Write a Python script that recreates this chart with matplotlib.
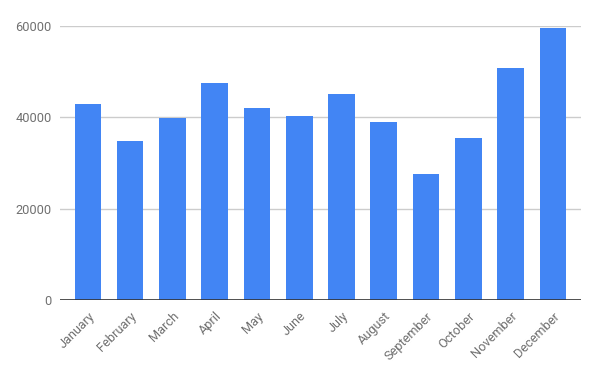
import matplotlib
matplotlib.use('Agg')
import matplotlib.pyplot as plt
import numpy as np

months = ['January', 'February', 'March', 'April', 'May', 'June', 'July',
          'August', 'September', 'October', 'November', 'December']
values = [42850, 34750, 39850, 47450, 41970, 40220, 45040,
          38900, 27590, 35400, 50730, 59490]
yticks = [0, 20000, 40000, 60000]

plt.rcParams['font.family'] = ['Roboto', 'DejaVu Sans']

fig = plt.figure(figsize=(6, 3.71), dpi=100)
ax = fig.add_axes([0.1, 1 - 300 / 371, 0.868, 274 / 371])

x = np.arange(len(months))
ax.bar(x, values, width=0.63, color='#4285f4', zorder=3)

ax.set_xlim(-0.66, len(months) - 1 + 0.66)
ax.set_ylim(0, 60000)
ax.set_yticks(yticks)
ax.set_yticklabels([str(v) for v in yticks])
ax.yaxis.grid(True, color='#cccccc', linewidth=1, zorder=0)
ax.axhline(0, color='#333333', linewidth=1.2, zorder=4)

ax.set_xticks(x)
ax.set_xticklabels(months, rotation=45, ha='right', rotation_mode='anchor')

for s in ax.spines.values():
    s.set_visible(False)
ax.tick_params(axis='both', length=0, labelsize=9.2, labelcolor='#707070')
ax.tick_params(axis='y', pad=6)
ax.tick_params(axis='x', pad=7)

fig.savefig('out.png', dpi=100)
